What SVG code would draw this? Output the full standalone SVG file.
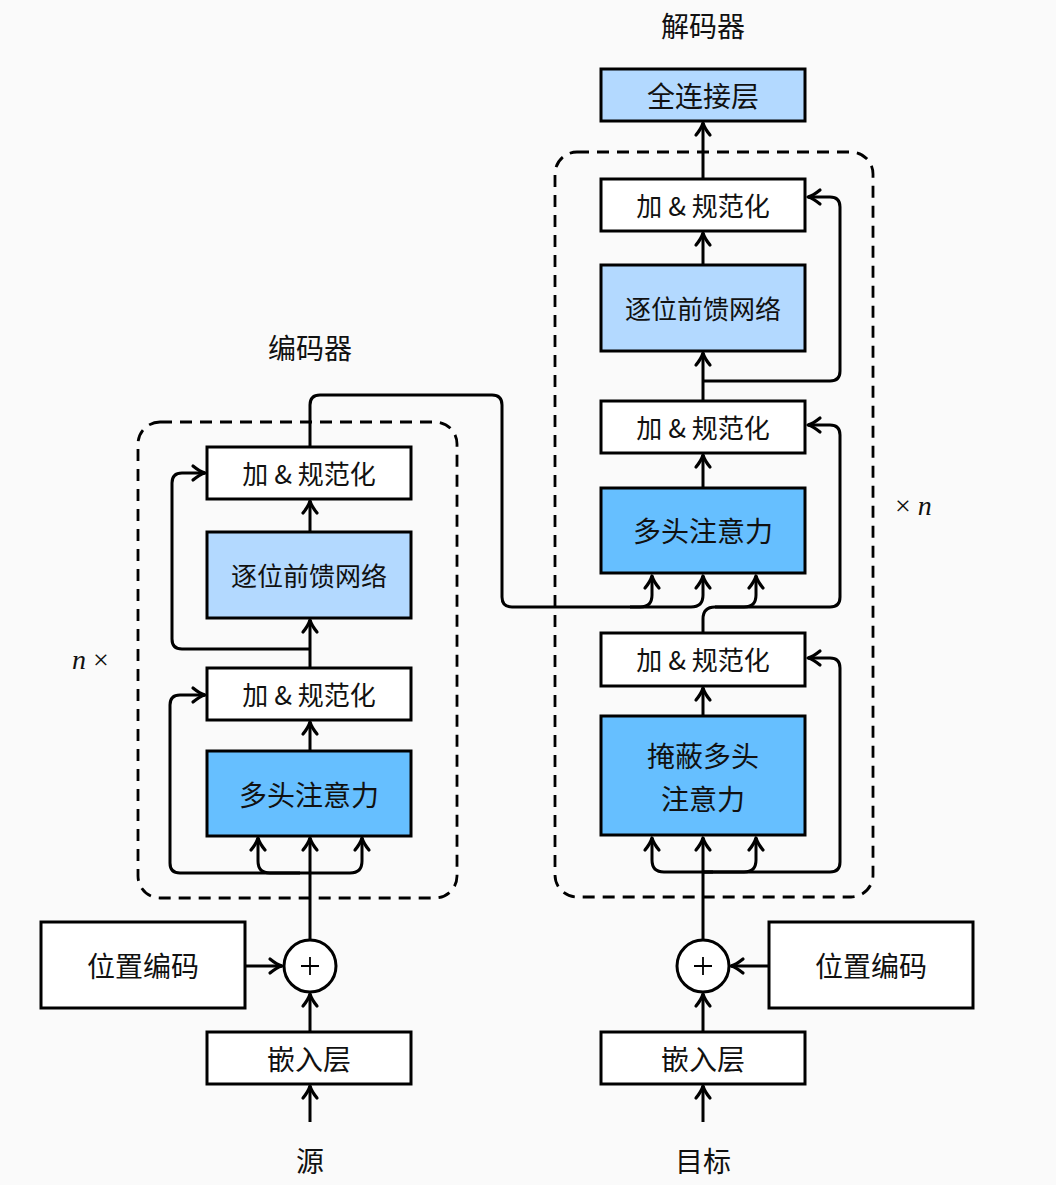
<svg xmlns="http://www.w3.org/2000/svg" width="1056" height="1185" viewBox="0 0 1056 1185">
<defs>
<marker id="arr" markerUnits="userSpaceOnUse" markerWidth="30" markerHeight="30" viewBox="-15 -15 30 30" refX="0" refY="0" orient="auto" overflow="visible">
<path d="M-12,-7 Q-5,-1.3 0,0 Q-5,1.3 -12,7" fill="none" stroke="#000" stroke-width="3.2" stroke-linecap="round" stroke-linejoin="round"/>
</marker>
<style>
.box{stroke:#000;stroke-width:3}
.w{fill:#fff}
.lb{fill:#b3d9ff}
.db{fill:#66bfff}
.dash{fill:none;stroke:#000;stroke-width:2.8;stroke-dasharray:12 8}
.t{font-family:"Noto Sans CJK SC","Noto Sans",sans-serif;fill:#111;text-anchor:middle;dominant-baseline:central}
.s26{font-size:26px}
.s28{font-size:28px}
.c{fill:none;stroke:#000;stroke-width:3;stroke-linejoin:round}
.a{marker-end:url(#arr)}
.m{font-family:"Liberation Serif",serif;font-size:28px;fill:#111}
</style>
</defs>
<rect width="1056" height="1185" fill="#fafafa"/>
<rect class="dash" x="138" y="422" width="319" height="476" rx="22"/>
<rect class="dash" x="555" y="152" width="318" height="745" rx="22"/>
<text class="t s28" x="310" y="347">编码器</text>
<text class="t s28" x="703" y="25">解码器</text>
<text class="m" x="72" y="669"><tspan font-style="italic">n</tspan> ×</text>
<text class="m" x="895" y="515">× <tspan font-style="italic">n</tspan></text>
<g id="connectors">
<path class="c a" d="M310,1122 L310,1086"/>
<path class="c a" d="M310,1032 L310,994"/>
<path class="c a" d="M245,966 L282,966"/>
<path class="c a" d="M310,940 L310,838"/>
<path class="c a" d="M310,873 L180,873 Q170,873 170,863 L170,705 Q170,695 180,695 L205,695"/>
<path class="c a" d="M300,873 L270,873 Q258,873 258,861 L258,838"/>
<path class="c a" d="M310,873 L350,873 Q362,873 362,861 L362,838"/>
<path class="c a" d="M310,751 L310,722"/>
<path class="c a" d="M310,668 L310,620"/>
<path class="c a" d="M310,649 L182,649 Q172,649 172,639 L172,483 Q172,473 182,473 L205,473"/>
<path class="c a" d="M310,532 L310,501"/>
<path class="c a" d="M310,447 L310,405 Q310,395 320,395 L492,395 Q502,395 502,405 L502,597 Q502,607 512,607 L640,607 Q652,607 652,595 L652,576"/>
<path class="c a" d="M630,607 L691,607 Q703,607 703,595 L703,576"/>
<path class="c a" d="M703,1122 L703,1086"/>
<path class="c a" d="M703,1032 L703,994"/>
<path class="c a" d="M769,966 L731,966"/>
<path class="c a" d="M703,940 L703,838"/>
<path class="c a" d="M703,872 L830,872 Q840,872 840,862 L840,668 Q840,658 830,658 L808,658"/>
<path class="c a" d="M713,872 L664,872 Q652,872 652,860 L652,838"/>
<path class="c a" d="M703,872 L744,872 Q756,872 756,860 L756,838"/>
<path class="c a" d="M703,716 L703,688"/>
<path class="c a" d="M703,633 L703,619 Q703,607 715,607 L744,607 Q756,607 756,595 L756,576"/>
<path class="c a" d="M715,607 L830,607 Q840,607 840,597 L840,435 Q840,425 830,425 L808,425"/>
<path class="c a" d="M703,488 L703,455"/>
<path class="c a" d="M703,401 L703,353"/>
<path class="c a" d="M703,381 L830,381 Q840,381 840,371 L840,207 Q840,197 830,197 L808,197"/>
<path class="c a" d="M703,265 L703,233"/>
<path class="c a" d="M703,179 L703,123"/>
</g>
<g id="enc-embed"><rect class="box w" x="207" y="1032" width="204" height="52"/><text class="t s28" x="309" y="1058">嵌入层</text></g>
<g id="enc-pos"><rect class="box w" x="41" y="922" width="204" height="86"/><text class="t s28" x="143" y="965">位置编码</text></g>
<g id="enc-plus"><circle cx="310" cy="966" r="26" fill="#fff" stroke="#000" stroke-width="3"/><path d="M301,966 H319 M310,957 V975" stroke="#000" stroke-width="1.8"/></g>
<g id="enc-mha"><rect class="box db" x="207" y="751" width="204" height="85"/><text class="t s28" x="309" y="794">多头注意力</text></g>
<g id="enc-an1"><rect class="box w" x="207" y="668" width="204" height="52"/><text class="t s26" x="309" y="693">加 &amp; 规范化</text></g>
<g id="enc-ffn"><rect class="box lb" x="207" y="532" width="204" height="86"/><text class="t s26" x="309" y="574">逐位前馈网络</text></g>
<g id="enc-an2"><rect class="box w" x="207" y="447" width="204" height="52"/><text class="t s26" x="309" y="472">加 &amp; 规范化</text></g>
<g id="dec-embed"><rect class="box w" x="601" y="1032" width="204" height="52"/><text class="t s28" x="703" y="1058">嵌入层</text></g>
<g id="dec-pos"><rect class="box w" x="769" y="922" width="204" height="86"/><text class="t s28" x="871" y="965">位置编码</text></g>
<g id="dec-plus"><circle cx="703" cy="966" r="26" fill="#fff" stroke="#000" stroke-width="3"/><path d="M694,966 H712 M703,957 V975" stroke="#000" stroke-width="1.8"/></g>
<g id="dec-mmha"><rect class="box db" x="601" y="716" width="204" height="119"/><text class="t s28" x="703" y="755">掩蔽多头</text><text class="t s28" x="703" y="798">注意力</text></g>
<g id="dec-an1"><rect class="box w" x="601" y="633" width="204" height="53"/><text class="t s26" x="703" y="658">加 &amp; 规范化</text></g>
<g id="dec-mha"><rect class="box db" x="601" y="488" width="204" height="85"/><text class="t s28" x="703" y="530">多头注意力</text></g>
<g id="dec-an2"><rect class="box w" x="601" y="401" width="204" height="52"/><text class="t s26" x="703" y="426">加 &amp; 规范化</text></g>
<g id="dec-ffn"><rect class="box lb" x="601" y="265" width="204" height="86"/><text class="t s26" x="703" y="307">逐位前馈网络</text></g>
<g id="dec-an3"><rect class="box w" x="601" y="179" width="204" height="52"/><text class="t s26" x="703" y="204">加 &amp; 规范化</text></g>
<g id="dec-fc"><rect class="box lb" x="601" y="69" width="204" height="52"/><text class="t s28" x="703" y="95">全连接层</text></g>
<text class="t s28" x="310" y="1160">源</text>
<text class="t s28" x="703" y="1160">目标</text>
</svg>
